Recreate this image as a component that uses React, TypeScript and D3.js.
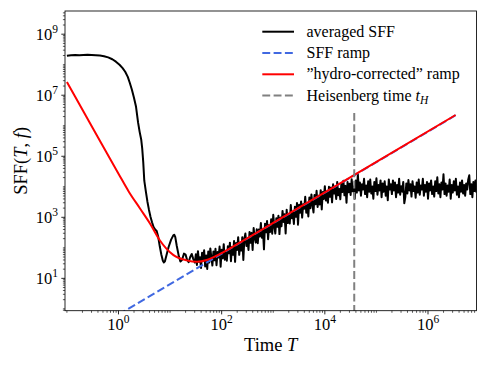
import React from 'react';
import * as d3 from 'd3';

// ---------- data (log10 values) ----------
const xLimLog = [-1.037, 6.94];
const yLimLog = [-0.06, 9.76];

const xTickExps = [0, 2, 4, 6];
const yTickExps = [1, 3, 5, 7, 9];

// averaged SFF: smooth early part
const sffSmoothLogT = [
  -1.0, -0.92, -0.84, -0.76, -0.68, -0.6, -0.52, -0.44, -0.36, -0.28, -0.2, -0.12, -0.05, 0.02, 0.08, 0.13,
  0.18, 0.22, 0.26, 0.3, 0.34, 0.38, 0.41, 0.44, 0.46, 0.48, 0.5, 0.53, 0.56, 0.59, 0.62, 0.65, 0.68, 0.71,
  0.74, 0.77, 0.8, 0.83, 0.86, 0.88, 0.9, 0.93, 0.97, 1.02, 1.06, 1.08, 1.1, 1.13, 1.17, 1.2, 1.23, 1.27,
  1.3, 1.33, 1.36, 1.39, 1.42, 1.45, 1.48,
];
const sffSmoothLogS = [
  8.29, 8.31, 8.32, 8.31, 8.32, 8.33, 8.32, 8.31, 8.3, 8.28, 8.24, 8.18, 8.1, 8.0, 7.89, 7.77,
  7.6, 7.4, 7.18, 6.92, 6.62, 6.1, 5.8, 5.55, 5.25, 4.8, 4.2, 3.85, 3.52, 3.25, 3.02, 2.84, 2.68, 2.6,
  2.55, 2.36, 2.05, 1.78, 1.58, 1.52, 1.56, 1.76, 2.02, 2.27, 2.4, 2.43, 2.36, 2.06, 1.72, 1.55, 1.6, 1.81,
  1.78, 1.6, 1.53, 1.7, 1.8, 1.63, 1.52,
];
// averaged SFF: noisy part, sampled every 0.02 decade from 10^1.5
const sffNoisyStartLogT = 1.5;
const sffNoisyStepLogT = 0.02;
const sffNoisyLogS = [
  1.79, 1.44, 1.89, 1.54, 1.69, 1.34, 1.84, 1.59, 1.92, 1.39,
  1.75, 1.31, 1.88, 1.52, 1.98, 1.69, 1.42, 1.88, 1.59, 1.97,
  1.43, 1.86, 1.68, 2.04, 1.38, 1.94, 1.66, 2.12, 1.61, 1.89,
  1.58, 2.05, 1.82, 2.17, 1.56, 2.03, 1.77, 2.22, 1.54, 2.16,
  1.93, 2.35, 1.77, 2.17, 1.91, 2.35, 1.6, 2.29, 2.47, 2.06,
  2.28, 1.93, 2.52, 2.17, 2.49, 1.93, 2.65, 2.32, 2.17, 2.61,
  2.15, 2.6, 2.37, 2.81, 2.33, 2.58, 1.95, 2.79, 2.51, 2.88,
  2.28, 2.75, 2.52, 2.94, 2.46, 3.08, 2.7, 2.47, 2.97, 2.69,
  3.05, 2.45, 2.99, 2.71, 3.21, 2.85, 3.1, 2.47, 3.25, 2.81,
  3.11, 2.8, 3.4, 2.97, 3.16, 2.78, 3.35, 3.02, 3.47, 2.76,
  3.41, 3.15, 3.52, 2.99, 3.43, 3.28, 3.67, 3.15, 3.45, 3.03,
  3.65, 3.3, 3.75, 3.41, 3.16, 3.73, 3.43, 3.87, 3.34, 3.71,
  3.42, 3.89, 3.26, 3.83, 3.6, 4.02, 3.55, 3.83, 3.48, 4.0,
  3.67, 3.98, 3.49, 4.08, 3.78, 3.96, 3.6, 4.16, 3.72, 3.93,
  3.59, 4.1, 3.83, 4.2, 3.72, 4.03, 3.48, 4.16, 3.82, 4.1,
  3.73, 4.25, 3.85, 4.01, 3.61, 4.21, 3.81, 4.41, 3.88, 4.14,
  3.71, 4.08, 3.91, 4.26, 3.76, 4.04, 3.66, 4.18, 3.84, 4.24,
  3.78, 4.01, 3.61, 4.16, 3.86, 4.28, 3.74, 4.06, 3.88, 4.21,
  3.66, 4.11, 3.84, 4.18, 3.71, 4.01, 3.56, 4.24, 3.91, 4.08,
  3.76, 4.21, 3.88, 4.14, 3.66, 4.06, 3.81, 4.26, 3.74, 4.02,
  3.84, 4.16, 3.46, 3.66, 4.11, 3.78, 4.22, 3.88, 4.08, 3.68,
  4.18, 3.86, 4.01, 3.64, 4.14, 3.81, 4.24, 3.74, 4.04, 3.91,
  4.26, 3.71, 4.06, 3.84, 4.16, 3.61, 4.11, 3.88, 4.21, 3.76,
  4.01, 3.68, 4.18, 3.86, 4.31, 3.78, 4.08, 3.66, 4.14, 3.91,
  4.41, 3.76, 4.11, 3.71, 4.04, 3.84, 4.24, 3.61, 4.06, 3.81,
  4.18, 3.88, 4.26, 3.74, 4.01, 3.66, 4.14, 3.84, 4.21, 3.78,
  4.06, 3.71, 4.11, 3.91, 4.24, 4.38, 3.76, 4.08, 3.66, 4.16, 3.86, 4.21, 3.81,
];

// "hydro-corrected" ramp
const hydroLogT = [-1.0, -0.5, 0.0, 0.2, 0.417, 0.61, 0.8, 1.06, 1.32, 1.52, 1.71, 1.9, 2.13, 2.5, 3.0, 4.0, 5.0, 6.535];
const hydroLogS = [7.43, 5.93, 4.43, 3.84, 3.29, 2.8, 2.25, 1.77, 1.59, 1.54, 1.6, 1.74, 1.95, 2.315, 2.817, 3.817, 4.817, 6.352];

// SFF ramp
const rampLogT = [0.0, 6.535];
const rampLogS = [-0.19, 6.345];

// Heisenberg time
const heisenbergLogT = 4.57;
const heisenbergLogS = [-0.5, 6.42];

const legendItems = [
  { key: 'sff', color: '#000000', dashed: false },
  { key: 'ramp', color: '#4169e1', dashed: true },
  { key: 'hydro', color: '#ff0000', dashed: false },
  { key: 'heis', color: '#808080', dashed: true },
];

// ---------- layout ----------
const W = 488;
const H = 366;
const left = 65;
const right = 476.5;
const top = 11;
const bottom = 310.7;
const FONT = '"Liberation Serif", "DejaVu Serif", serif';
const LW = 2;
const DASH = '7.9 3.4';

export default function App() {
  const x = d3.scaleLog().domain([10 ** xLimLog[0], 10 ** xLimLog[1]]).range([left, right]);
  const y = d3.scaleLog().domain([10 ** yLimLog[0], 10 ** yLimLog[1]]).range([bottom, top]);

  const line = d3
    .line<[number, number]>()
    .x((d) => x(d[0]))
    .y((d) => y(d[1]));

  const sffPts: [number, number][] = sffSmoothLogT.map((t, i) => [10 ** t, 10 ** sffSmoothLogS[i]]);
  sffNoisyLogS.forEach((s, i) => {
    sffPts.push([10 ** (sffNoisyStartLogT + i * sffNoisyStepLogT), 10 ** s]);
  });
  const hydroPts: [number, number][] = hydroLogT.map((t, i) => [10 ** t, 10 ** hydroLogS[i]]);
  const rampPts: [number, number][] = rampLogT.map((t, i) => [10 ** t, 10 ** rampLogS[i]]);
  const heisPts: [number, number][] = heisenbergLogS.map((s) => [10 ** heisenbergLogT, 10 ** s]);

  const hydroLine = d3
    .line<[number, number]>()
    .x((d) => x(d[0]))
    .y((d) => y(d[1]))
    .curve(d3.curveMonotoneX);

  // ticks
  const xMinor: number[] = [];
  for (let e = -2; e <= 7; e++) {
    for (let k = 1; k <= 9; k++) {
      if (k === 1 && xTickExps.includes(e)) continue;
      const v = k * 10 ** e;
      if (v >= 10 ** xLimLog[0] && v <= 10 ** xLimLog[1]) xMinor.push(v);
    }
  }
  const yMinor: number[] = [];
  for (let e = -1; e <= 10; e++) {
    for (let k = 1; k <= 9; k++) {
      if (k === 1 && yTickExps.includes(e)) continue;
      const v = k * 10 ** e;
      if (v >= 10 ** yLimLog[0] && v <= 10 ** yLimLog[1]) yMinor.push(v);
    }
  }

  const legendX0 = 262.3;
  const legendX1 = 294;
  const legendTextX = 306.5;
  const legendY0 = 31.7;
  const legendDy = 21.3;

  const legendText = (key: string) => {
    if (key === 'sff') return <>averaged SFF</>;
    if (key === 'ramp') return <>SFF ramp</>;
    if (key === 'hydro') return <>”hydro-corrected” ramp</>;
    return (
      <>
        Heisenberg time <tspan fontStyle="italic">t</tspan>
        <tspan fontStyle="italic" fontSize={11.5} dy={3}>H</tspan>
      </>
    );
  };

  return (
    <svg
      width={W}
      height={H}
      viewBox={`0 0 ${W} ${H}`}
      style={{ position: 'absolute', left: 0, top: 0, background: '#fff' }}
      fontFamily={FONT}
    >
      <defs>
        <clipPath id="plot">
          <rect x={left} y={top} width={right - left} height={bottom - top} />
        </clipPath>
      </defs>
      <rect x={0} y={0} width={W} height={H} fill="#fff" />

      <g clipPath="url(#plot)" fill="none" strokeLinejoin="round">
        <path d={line(sffPts) || ''} stroke="#000" strokeWidth={LW} />
        <path d={line(rampPts) || ''} stroke="#4169e1" strokeWidth={LW} strokeDasharray={DASH} />
        <path d={hydroLine(hydroPts) || ''} stroke="#ff0000" strokeWidth={LW} />
        <path d={line(heisPts) || ''} stroke="#808080" strokeWidth={LW} strokeDasharray={DASH} />
      </g>

      {/* spines */}
      <rect x={left} y={top} width={right - left} height={bottom - top} fill="none" stroke="#000" strokeWidth={0.85} />

      {/* x ticks */}
      {xMinor.map((v, i) => (
        <line key={'xm' + i} x1={x(v)} x2={x(v)} y1={bottom} y2={bottom + 2.1} stroke="#000" strokeWidth={0.65} />
      ))}
      {xTickExps.map((e) => (
        <g key={'xt' + e}>
          <line x1={x(10 ** e)} x2={x(10 ** e)} y1={bottom} y2={bottom + 3.7} stroke="#000" strokeWidth={0.85} />
          <text x={x(10 ** e)} y={330} textAnchor="middle" fontSize={16.5} fill="#000">
            10<tspan fontSize={11.5} dy={-6.8}>{e}</tspan>
          </text>
        </g>
      ))}

      {/* y ticks */}
      {yMinor.map((v, i) => (
        <line key={'ym' + i} x1={left} x2={left - 2.1} y1={y(v)} y2={y(v)} stroke="#000" strokeWidth={0.65} />
      ))}
      {yTickExps.map((e) => (
        <g key={'yt' + e}>
          <line x1={left} x2={left - 3.7} y1={y(10 ** e)} y2={y(10 ** e)} stroke="#000" strokeWidth={0.85} />
          <text x={58} y={y(10 ** e) + 5.5} textAnchor="end" fontSize={16.5} fill="#000">
            10<tspan fontSize={11.5} dy={-6.8}>{e}</tspan>
          </text>
        </g>
      ))}

      {/* axis labels */}
      <text x={(left + right) / 2} y={351.3} textAnchor="middle" fontSize={18.5} fill="#000">
        Time <tspan fontStyle="italic">T</tspan>
      </text>
      <text transform={`translate(26.5, ${(top + bottom) / 2}) rotate(-90)`} textAnchor="middle" fontSize={18.5} fill="#000">
        SFF(<tspan fontStyle="italic">T</tspan>, <tspan fontStyle="italic">f</tspan>)
      </text>

      {/* legend */}
      {legendItems.map((it, i) => {
        const yy = legendY0 + i * legendDy;
        return (
          <g key={it.key}>
            <line
              x1={legendX0}
              x2={legendX1}
              y1={yy}
              y2={yy}
              stroke={it.color}
              strokeWidth={LW}
              strokeDasharray={it.dashed ? DASH : undefined}
            />
            <text x={legendTextX} y={yy + 5} fontSize={16} fill="#000">
              {legendText(it.key)}
            </text>
          </g>
        );
      })}
    </svg>
  );
}
